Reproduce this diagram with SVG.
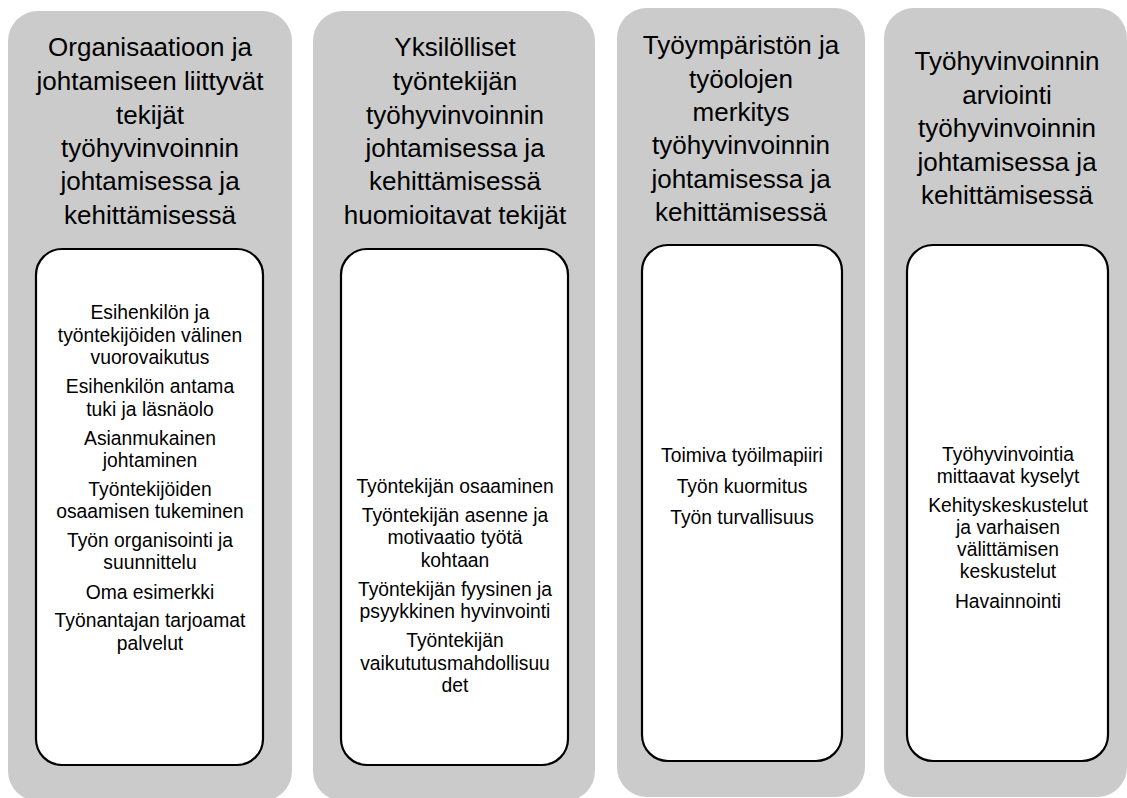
<svg xmlns="http://www.w3.org/2000/svg" width="1127" height="798" viewBox="0 0 1127 798">
<style>
.col{fill:#cbcbcb;}
.box{fill:#ffffff;stroke:#000000;stroke-width:2.2;}
.t{font-family:"Liberation Sans",Arial,sans-serif;font-size:26px;fill:#000;text-anchor:middle;}
.s{font-family:"Liberation Sans",Arial,sans-serif;font-size:19.3px;fill:#000;text-anchor:middle;}
</style>
<rect width="1127" height="798" fill="#ffffff"/>
<g id="col1">
<rect class="col" x="8" y="11" width="284" height="790" rx="30"/>
<text class="t" x="150"><tspan x="150" y="56">Organisaatioon ja</tspan><tspan x="150" y="90">johtamiseen liittyvät</tspan><tspan x="150" y="124">tekijät</tspan><tspan x="150" y="157">työhyvinvoinnin</tspan><tspan x="150" y="190">johtamisessa ja</tspan><tspan x="150" y="224">kehittämisessä</tspan></text>
<rect class="box" x="36" y="249" width="227" height="516" rx="26"/>
<text class="s"><tspan x="150" y="319">Esihenkilön ja</tspan><tspan x="150" y="342">työntekijöiden välinen</tspan><tspan x="150" y="364">vuorovaikutus</tspan><tspan x="150" y="393">Esihenkilön antama</tspan><tspan x="150" y="416">tuki ja läsnäolo</tspan><tspan x="150" y="445">Asianmukainen</tspan><tspan x="150" y="467">johtaminen</tspan><tspan x="150" y="496">Työntekijöiden</tspan><tspan x="150" y="518">osaamisen tukeminen</tspan><tspan x="150" y="547">Työn organisointi ja</tspan><tspan x="150" y="569">suunnittelu</tspan><tspan x="150" y="599">Oma esimerkki</tspan><tspan x="150" y="627">Työnantajan tarjoamat</tspan><tspan x="150" y="650">palvelut</tspan></text>
</g>
<g id="col2">
<rect class="col" x="313" y="11" width="282" height="790" rx="30"/>
<text class="t"><tspan x="455" y="56">Yksilölliset</tspan><tspan x="455" y="90">työntekijän</tspan><tspan x="455" y="124">työhyvinvoinnin</tspan><tspan x="455" y="157">johtamisessa ja</tspan><tspan x="455" y="190">kehittämisessä</tspan><tspan x="455" y="224">huomioitavat tekijät</tspan></text>
<rect class="box" x="341" y="249" width="227" height="516" rx="26"/>
<text class="s"><tspan x="455" y="493">Työntekijän osaaminen</tspan><tspan x="455" y="522">Työntekijän asenne ja</tspan><tspan x="455" y="544">motivaatio työtä</tspan><tspan x="455" y="567">kohtaan</tspan><tspan x="455" y="596">Työntekijän fyysinen ja</tspan><tspan x="455" y="618">psyykkinen hyvinvointi</tspan><tspan x="455" y="647">Työntekijän</tspan><tspan x="455" y="670">vaikututusmahdollisuu</tspan><tspan x="455" y="692">det</tspan></text>
</g>
<g id="col3">
<rect class="col" x="617" y="8" width="248" height="789" rx="30"/>
<text class="t"><tspan x="741" y="54">Työympäristön ja</tspan><tspan x="741" y="88">työolojen</tspan><tspan x="741" y="121">merkitys</tspan><tspan x="741" y="154">työhyvinvoinnin</tspan><tspan x="741" y="188">johtamisessa ja</tspan><tspan x="741" y="221">kehittämisessä</tspan></text>
<rect class="box" x="642" y="245" width="200" height="516" rx="26"/>
<text class="s"><tspan x="742" y="462">Toimiva työilmapiiri</tspan><tspan x="742" y="493">Työn kuormitus</tspan><tspan x="742" y="524">Työn turvallisuus</tspan></text>
</g>
<g id="col4">
<rect class="col" x="884" y="8" width="243" height="789" rx="30"/>
<text class="t"><tspan x="1007" y="70">Työhyvinvoinnin</tspan><tspan x="1007" y="104">arviointi</tspan><tspan x="1007" y="137">työhyvinvoinnin</tspan><tspan x="1007" y="171">johtamisessa ja</tspan><tspan x="1007" y="204">kehittämisessä</tspan></text>
<rect class="box" x="907" y="245" width="201" height="516" rx="26"/>
<text class="s"><tspan x="1008" y="461">Työhyvinvointia</tspan><tspan x="1008" y="483">mittaavat kyselyt</tspan><tspan x="1008" y="512">Kehityskeskustelut</tspan><tspan x="1008" y="534">ja varhaisen</tspan><tspan x="1008" y="556">välittämisen</tspan><tspan x="1008" y="578">keskustelut</tspan><tspan x="1008" y="608">Havainnointi</tspan></text>
</g>
<g id="connectors"></g>
</svg>
